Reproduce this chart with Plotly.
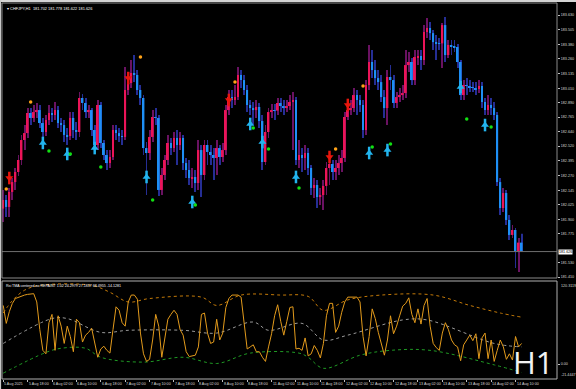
import plotly.graph_objects as go

# ---------------- DATA ----------------
first_open = 181.990
closes = [
182.063, 182.004, 182.131, 182.215, 182.300, 182.402, 182.571, 182.630, 182.800, 182.758,
182.808, 182.825, 182.715, 182.639, 182.741, 182.800, 182.783, 182.825, 182.715, 182.698,
182.614, 182.605, 182.758, 182.656, 182.639, 182.927, 182.885, 182.808, 182.825, 182.656,
182.529, 182.868, 182.546, 182.444, 182.376, 182.427, 182.656, 182.630, 182.605, 182.597,
182.995, 183.054, 183.139, 183.122, 182.995, 182.927, 182.503, 182.461, 182.597, 182.766,
182.758, 182.148, 182.275, 182.402, 182.546, 182.503, 182.588, 182.529, 182.588, 182.376,
182.317, 182.249, 182.258, 182.207, 182.486, 182.275, 182.529, 182.470, 182.444, 182.419,
182.503, 182.427, 182.486, 182.825, 182.935, 182.910, 182.935, 183.122, 183.079, 182.995,
182.868, 182.842, 182.825, 182.851, 182.732, 182.385, 182.639, 182.808, 182.825, 182.820,
182.885, 182.859, 182.842, 182.859, 182.893, 182.910, 182.402, 182.444, 182.419, 182.461,
182.334, 182.165, 182.190, 182.088, 182.105, 182.182, 182.334, 182.368, 182.300, 182.334,
182.376, 182.419, 182.766, 182.825, 182.842, 182.952, 182.910, 182.868, 182.656, 183.037,
183.232, 183.164, 183.096, 183.062, 182.935, 182.842, 183.105, 183.079, 182.885, 182.935,
182.952, 182.969, 183.206, 183.232, 183.079, 183.274, 183.283, 183.249, 183.486, 183.520,
183.477, 183.401, 183.393, 183.390, 183.545, 183.291, 183.376, 183.367, 183.359, 183.232,
182.952, 183.037, 183.029, 183.020, 183.012, 183.003, 183.029, 182.893, 182.825, 182.868,
182.842, 182.783, 182.215, 181.995, 182.122, 181.894, 181.767, 181.809, 181.623, 181.702,
181.626]
highs = [
182.148, 182.105, 182.165, 182.249, 182.334, 182.444, 182.614, 182.698, 182.842, 182.842,
182.868, 182.885, 182.868, 182.758, 182.783, 182.868, 182.842, 182.893, 182.859, 182.758,
182.741, 182.673, 182.808, 182.808, 182.724, 182.978, 182.961, 182.927, 182.868, 182.842,
182.698, 182.910, 182.893, 182.571, 182.486, 182.486, 182.698, 182.698, 182.673, 182.656,
183.190, 183.122, 183.249, 183.291, 183.164, 183.037, 182.952, 182.554, 182.656, 182.825,
182.842, 182.783, 182.334, 182.444, 182.614, 182.588, 182.639, 182.656, 182.639, 182.614,
182.419, 182.402, 182.334, 182.317, 182.571, 182.529, 182.571, 182.571, 182.529, 182.503,
182.571, 182.529, 182.546, 182.868, 182.995, 182.995, 183.037, 183.190, 183.164, 183.122,
183.037, 182.910, 182.893, 182.910, 182.885, 182.783, 182.698, 182.842, 182.876, 182.876,
182.927, 182.927, 182.910, 182.910, 182.952, 182.978, 182.935, 182.571, 182.503, 182.529,
182.503, 182.359, 182.249, 182.232, 182.165, 182.232, 182.385, 182.419, 182.402, 182.402,
182.444, 182.486, 182.808, 182.910, 182.910, 183.012, 182.995, 182.952, 182.910, 183.079,
183.376, 183.334, 183.249, 183.164, 183.122, 182.995, 183.164, 183.206, 183.122, 182.978,
183.012, 183.037, 183.334, 183.317, 183.266, 183.334, 183.334, 183.334, 183.545, 183.605,
183.571, 183.503, 183.461, 183.435, 183.562, 183.613, 183.418, 183.418, 183.418, 183.384,
183.249, 183.079, 183.096, 183.079, 183.062, 183.062, 183.079, 183.062, 182.927, 182.952,
182.927, 182.893, 182.808, 182.249, 182.165, 182.148, 181.936, 181.851, 181.826, 181.741,
181.778]
lows = [
181.877, 181.919, 181.919, 182.063, 182.148, 182.266, 182.359, 182.486, 182.588, 182.698,
182.724, 182.758, 182.673, 182.571, 182.605, 182.698, 182.724, 182.741, 182.673, 182.639,
182.554, 182.529, 182.571, 182.588, 182.571, 182.597, 182.825, 182.758, 182.758, 182.605,
182.486, 182.486, 182.503, 182.402, 182.317, 182.334, 182.402, 182.571, 182.554, 182.529,
182.571, 182.952, 183.012, 183.062, 182.952, 182.868, 182.444, 182.105, 182.402, 182.554,
182.698, 182.097, 182.105, 182.232, 182.359, 182.444, 182.470, 182.359, 182.486, 182.317,
182.249, 182.190, 182.165, 182.131, 182.148, 182.088, 182.232, 182.359, 182.359, 182.232,
182.275, 182.359, 182.385, 182.444, 182.783, 182.842, 182.868, 182.910, 183.012, 182.952,
182.808, 182.783, 182.698, 182.758, 182.673, 182.317, 182.359, 182.588, 182.758, 182.741,
182.783, 182.808, 182.783, 182.808, 182.825, 182.486, 182.359, 182.334, 182.300, 182.317,
182.275, 182.105, 182.080, 181.995, 182.021, 181.978, 182.105, 182.190, 182.232, 182.232,
182.275, 182.300, 182.385, 182.741, 182.783, 182.808, 182.783, 182.808, 182.588, 182.614,
182.995, 183.096, 183.037, 182.995, 182.893, 182.758, 182.698, 182.995, 182.842, 182.842,
182.893, 182.910, 182.927, 183.147, 183.037, 183.037, 183.206, 183.164, 183.206, 183.435,
183.418, 183.334, 183.249, 183.334, 183.181, 183.232, 183.266, 183.291, 183.317, 183.181,
182.910, 182.910, 182.952, 182.978, 182.978, 182.952, 182.969, 182.842, 182.783, 182.783,
182.783, 182.741, 182.182, 181.936, 181.961, 181.851, 181.724, 181.741, 181.487, 181.453,
181.622]

# signal markers (bar index, price)
up_arrow_bar = [13, 21, 30, 47, 62, 81, 85, 96, 120, 126, 150, 158]
up_arrow_price = [182.546, 182.453, 182.503, 182.258, 182.046, 182.707, 182.554, 182.258, 182.461, 182.486, 183.020, 182.698]
down_arrow_bar = [2, 41, 74, 107, 113]
down_arrow_price = [182.249, 183.096, 182.910, 182.427, 182.868]
orange_dot_bar = [1, 9, 45, 76, 109, 118]
orange_dot_price = [182.156, 182.893, 183.274, 183.062, 182.495, 183.029]
green_dot_bar = [15, 22, 32, 49, 63, 82, 87, 97, 121, 127, 152, 160]
green_dot_price = [182.478, 182.453, 182.342, 182.063, 182.021, 182.673, 182.495, 182.165, 182.512, 182.537, 182.749, 182.681]

# indicator
rsi = [
85, 59, 76, 88, 95, 97, 99, 100, 101, 101, 102, 90, 50, 20, 15, 60, 72, 20, 70, 55,
30, 55, 40, 18, 65, 60, 32, 42, 46, 52, 30, 10, 22, 26, 20, 16, 50, 83, 78, 60,
55, 90, 100, 100, 94, 45, 15, 4, 7, 35, 72, 55, 10, 40, 65, 72, 78, 72, 50, 42,
18, 11, 12, 13, 25, 72, 74, 45, 30, 32, 65, 35, 45, 82, 95, 100, 100, 100, 97, 58,
22, 25, 28, 18, 18, 10, 4, 25, 44, 70, 86, 62, 42, 62, 82, 83, 22, 23, 20, 38,
12, 15, 27, 20, 9, 30, 70, 88, 88, 46, 55, 75, 90, 97, 97, 97, 97, 90, 40, 12,
40, 80, 66, 46, 30, 13, 35, 70, 44, 55, 70, 84, 88, 96, 72, 60, 80, 58, 85, 95,
55, 30, 24, 20, 45, 60, 50, 35, 28, 25, 5, 28, 35, 42, 34, 44, 8, 38, 45, 8,
35, 4, 20, 35, 25, 7, 15, 6, 40, 25, 30]
upper_x = [0, 3, 7, 12, 29, 35, 41, 48, 65, 70, 78, 91, 100, 105, 113, 124, 141, 153, 163, 170]
upper_v = [74, 92, 107, 114, 114, 104, 90, 95, 97, 85, 100, 100, 98, 78, 93, 100, 100, 85, 74, 68]
mid_x = [0, 16, 21, 32, 41, 59, 70, 82, 87, 98, 105, 113, 131, 139, 161, 170]
mid_v = [30, 66, 66, 46, 49, 49, 45, 61, 49, 59, 35, 42, 64, 64, 30, 25]
low_x = [0, 14, 19, 27, 32, 46, 59, 70, 81, 97, 100, 105, 117, 127, 140, 161, 170]
low_v = [-13, 17, 23, 23, 10, 3, 10, 1, 16, 16, 10, -6, 13, 20, 20, -1, -12]

price_ticks = [183.630, 183.505, 183.380, 183.260, 183.135, 183.010, 182.890, 182.765,
               182.640, 182.520, 182.395, 182.270, 182.145, 182.025, 181.900, 181.775,
               181.530, 181.410]
price_tick_text = ["183.630", "183.505", "183.380", "183.260", "183.135", "183.010", "182.890",
                   "182.765", "182.640", "182.520", "182.395", "182.270", "182.145", "182.025",
                   "181.900", "181.775", "181.530", "181.410"]
time_tick_bars = [0, 8, 16, 24, 32, 40, 48, 56, 64, 72, 80, 88, 96, 104, 112, 120, 128, 136, 144, 152, 160, 168]
time_tick_text = ["5 Aug 2025", "5 Aug 18:00", "6 Aug 02:00", "6 Aug 10:00", "6 Aug 18:00",
                  "7 Aug 02:00", "7 Aug 10:00", "7 Aug 18:00", "8 Aug 02:00", "8 Aug 10:00",
                  "8 Aug 18:00", "11 Aug 02:00", "11 Aug 10:00", "11 Aug 18:00", "12 Aug 02:00",
                  "12 Aug 10:00", "12 Aug 18:00", "13 Aug 02:00", "13 Aug 10:00", "13 Aug 18:00",
                  "14 Aug 02:00", "14 Aug 10:00"]
ind_top, ind_bottom = 120.3119, -21.4447
header = "▾ CHFJPY,H1  181.702 181.778 181.622 181.626"
ind_label = "Rsi TMA centered no REPAINT 1.02 24.2979 27.1837 68.4955 -14.1281"

# ---------------- STYLE ----------------
BULL, BEAR = "#eb1458", "#1e8ff5"
BULL_W, BEAR_W = "#6a1262", "#252e95"
AX = "#d8d8d8"
FONT = "Liberation Sans"
SMALL = 3.7

opens = [first_open] + closes[:-1]
n = len(closes)
bars = list(range(n))
is_up = [c >= o for o, c in zip(opens, closes)]

fig = go.Figure()
fig.add_trace(go.Bar(x=bars, base=lows, y=[h - l for h, l in zip(highs, lows)], width=0.3,
                     marker=dict(color=[BULL_W if u else BEAR_W for u in is_up], line_width=0),
                     xaxis="x", yaxis="y"))
fig.add_trace(go.Bar(x=bars, base=[min(o, c) for o, c in zip(opens, closes)],
                     y=[max(abs(c - o), 0.003) for o, c in zip(opens, closes)], width=0.6,
                     marker=dict(color=[BULL if u else BEAR for u in is_up], line_width=0),
                     xaxis="x", yaxis="y"))
# arrows: stem + head
fig.add_trace(go.Scatter(x=up_arrow_bar, y=up_arrow_price, mode="markers",
                         marker=dict(symbol="line-ns", size=9, color="#22b4ee",
                                     line=dict(width=2.5, color="#22b4ee"))))
fig.add_trace(go.Scatter(x=up_arrow_bar, y=up_arrow_price, mode="markers",
                         marker=dict(symbol="triangle-up", size=7, color="#22b4ee", line_width=0)))
fig.add_trace(go.Scatter(x=down_arrow_bar, y=down_arrow_price, mode="markers",
                         marker=dict(symbol="line-ns", size=9, color="#e8160c",
                                     line=dict(width=2.5, color="#e8160c"))))
fig.add_trace(go.Scatter(x=down_arrow_bar, y=down_arrow_price, mode="markers",
                         marker=dict(symbol="triangle-down", size=7, color="#e8160c", line_width=0)))
fig.add_trace(go.Scatter(x=orange_dot_bar, y=orange_dot_price, mode="markers",
                         marker=dict(symbol="circle", size=3.5, color="#ffa318", line_width=0)))
fig.add_trace(go.Scatter(x=green_dot_bar, y=green_dot_price, mode="markers",
                         marker=dict(symbol="circle", size=3.5, color="#12e012", line_width=0)))

# indicator
fig.add_trace(go.Scatter(x=upper_x, y=upper_v, mode="lines", xaxis="x2", yaxis="y2",
                         line=dict(color="#c47a08", width=1, dash="dot", shape="spline")))
fig.add_trace(go.Scatter(x=mid_x, y=mid_v, mode="lines", xaxis="x2", yaxis="y2",
                         line=dict(color="#9a9a9a", width=1, dash="dot", shape="spline")))
fig.add_trace(go.Scatter(x=low_x, y=low_v, mode="lines", xaxis="x2", yaxis="y2",
                         line=dict(color="#1f9a24", width=1, dash="dot", shape="spline")))
fig.add_trace(go.Scatter(x=bars, y=rsi, mode="lines", xaxis="x2", yaxis="y2",
                         line=dict(color="#e39b1c", width=1)))

xr = [-0.4, 181.6]
annotations = []
for b, t in zip(time_tick_bars, time_tick_text):
    annotations.append(dict(x=b, xref="x2", y=0, yref="paper", yanchor="top", xanchor="left",
                            text=t, showarrow=False, yshift=-1, xshift=-1,
                            font=dict(size=SMALL, color=AX, family=FONT)))
annotations += [
    dict(x=0, xref="paper", y=1, yref="paper", xanchor="left", yanchor="top", xshift=3, yshift=-1,
         text=header, showarrow=False, font=dict(size=3.9, color="#ffffff", family=FONT)),
    dict(x=0, xref="x2 domain", y=1, yref="y2 domain", xanchor="left", yanchor="top", xshift=2, yshift=-1,
         text=ind_label, showarrow=False, font=dict(size=3.6, color="#ffffff", family=FONT)),
    dict(x=1, xref="x domain", y=closes[-1], yref="y", xanchor="left", yanchor="middle", xshift=1,
         text=f"{closes[-1]:.3f}", showarrow=False, bgcolor="#ffffff", borderpad=0,
         font=dict(size=SMALL, color="#000000", family=FONT)),
    dict(x=1, xref="x2 domain", y=1, yref="y2 domain", xanchor="left", yanchor="top", xshift=2, yshift=-1,
         text=f"{ind_top:.4f}", showarrow=False, font=dict(size=SMALL, color=AX, family=FONT)),
    dict(x=1, xref="x2 domain", y=0, yref="y2 domain", xanchor="left", yanchor="bottom", xshift=2, yshift=0,
         text=f"{ind_bottom:.4f}", showarrow=False, font=dict(size=SMALL, color=AX, family=FONT)),
    dict(x=1, xref="x2 domain", y=0, yref="y2 domain", xanchor="right", yanchor="bottom", xshift=-1, yshift=-6,
         text="H1", showarrow=False, font=dict(size=31, color="#f2f2f2", family="Open Sans")),
]

shapes = [
    dict(type="line", xref="x domain", x0=0, x1=1, yref="y", y0=closes[-1], y1=closes[-1],
         line=dict(color="#6e6e6e", width=1)),
    dict(type="rect", xref="x domain", x0=0, x1=1, yref="y domain", y0=0, y1=1,
         line=dict(color="#8a8a8a", width=1)),
    dict(type="rect", xref="x2 domain", x0=0, x1=1, yref="y2 domain", y0=0, y1=1,
         line=dict(color="#b0b0b0", width=1)),
    dict(type="rect", xref="paper", x0=-0.01, x1=1.04, yref="paper", y0=1.0027, y1=1.01,
         fillcolor="#d4d4d4", line_width=0, layer="above"),
    dict(type="rect", xref="paper", x0=-0.01, x1=-0.0016, yref="paper", y0=-0.03, y1=1.01,
         fillcolor="#c8c8c8", line_width=0, layer="above"),
]

fig.update_layout(
    width=576, height=389, margin=dict(l=2, r=19, t=3, b=10, autoexpand=False),
    paper_bgcolor="#000000", plot_bgcolor="#000000", barmode="overlay", showlegend=False,
    hovermode=False, annotations=annotations, shapes=shapes,
    xaxis=dict(domain=[0, 1], range=xr, anchor="y", showticklabels=False, showgrid=False,
               zeroline=False, ticks=""),
    xaxis2=dict(domain=[0, 1], range=xr, anchor="y2", matches="x", showticklabels=False,
                showgrid=False, zeroline=False, tickmode="array", tickvals=time_tick_bars,
                ticks="outside", ticklen=2, tickcolor="#c0c0c0"),
    yaxis=dict(domain=[0.2686, 1], range=[181.402, 183.732], side="right", anchor="x",
               tickmode="array", tickvals=price_ticks, ticktext=price_tick_text,
               tickfont=dict(size=SMALL, color=AX, family=FONT), ticks="outside", ticklen=2,
               tickcolor="#c0c0c0", showgrid=False, zeroline=False, automargin=False),
    yaxis2=dict(domain=[0, 0.2606], range=[ind_bottom, ind_top], side="right", anchor="x2",
                tickmode="array", tickvals=[0], ticktext=["0.00"],
                tickfont=dict(size=SMALL, color=AX, family=FONT), ticks="outside", ticklen=2,
                tickcolor="#c0c0c0", showgrid=False, zeroline=False, automargin=False),
)

fig.write_html("out.html", config={"displayModeBar": False},
               post_script="document.body.style.margin='0';document.body.style.overflow='hidden';")
